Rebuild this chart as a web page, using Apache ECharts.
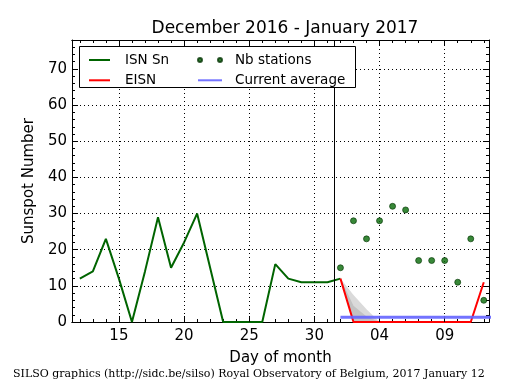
<!DOCTYPE html>
<html><head><meta charset="utf-8">
<script src="https://cdn.jsdelivr.net/npm/echarts@6/dist/echarts.min.js"></script>
<style>html,body{margin:0;padding:0;background:#fff}#c{width:515px;height:390px}</style>
</head><body><div id="c"></div>
<script>
// ---- data ----
const isnDays = [12,13,14,15,16,17,18,19,20,21,22,23,24,25,26,27,28,29,30,31,32];
const isnValues = [12,14,23,12,0,14,29,15,22,30,15,0,0,0,0,16,12,11,11,11,12];
const eisnDays = [32,33,34,35,36,37,38,39,40,41,42,43];
const eisnValues = [12,0,0,0,0,0,0,0,0,0,0,11];
const stationDays = [32,33,34,35,36,37,38,39,40,41,42,43];
const stationValues = [15,28,23,28,32,31,17,17,17,11,23,6];
const avgDays = [32,44];
const avgValues = [1.3,1.3];
const bandDays = [32,33,34,35];
const bandLow = [12,0,0,0];
const bandOuterHigh = [12,7.5,3.5,0];
const bandInnerHigh = [12,4.5,1.5,0];
const xTickValues = [15,20,25,30,35,40];
const xMinorValues = [12,13,14,15,16,17,18,19,20,21,22,23,24,25,26,27,28,29,30,31,32,33,34,35,36,37,38,39,40,41,42,43];
const xTickLabels = ['15','20','25','30','04','09'];
const monthBoundary = 31.5;

const X_MIN = 11.4, X_MAX = 43.4, Y_MIN = 0, Y_MAX = 78;
const pairs = (xs, ys) => xs.map((x, i) => [x, ys[i]]);
const FONT = 'DejaVu Sans';

function bandRenderer(highs, fill) {
  return function (params, api) {
    const pts = [];
    bandDays.forEach((d, i) => pts.push(api.coord([d, highs[i]])));
    for (let i = bandDays.length - 1; i >= 0; i--) pts.push(api.coord([bandDays[i], bandLow[i]]));
    return {type: 'polygon', shape: {points: pts}, style: {fill: fill}, silent: true};
  };
}

const chart = echarts.init(document.getElementById('c'), null, {renderer: 'canvas'});
const baseX = {
  type: 'value', min: X_MIN, max: X_MAX, gridIndex: 0,
  axisLine: {show: true, onZero: false, lineStyle: {color: '#000', width: 1}},
  splitLine: {show: false}
};
const baseY = {
  type: 'value', min: Y_MIN, max: Y_MAX, interval: 10,
  axisLine: {show: true, onZero: false, lineStyle: {color: '#000', width: 1}},
  axisTick: {show: true, inside: true, length: 6, lineStyle: {color: '#000'}},
  minorTick: {show: true, splitNumber: 5, length: 3, lineStyle: {color: '#000'}}
};
const hideSym = {opacity: 0};
const option = {
  animation: false,
  backgroundColor: '#fff',
  textStyle: {fontFamily: FONT},
  title: {
    text: 'December 2016 - January 2017', left: 280, top: 15, textAlign: 'center',
    textStyle: {fontFamily: FONT, fontSize: 17, fontWeight: 'normal', color: '#000'}
  },
  grid: {left: 72, right: 26, top: 40, bottom: 68, containLabel: false},
  xAxis: [
    Object.assign({}, baseX, {
      position: 'bottom',
      name: 'Day of month', nameLocation: 'middle', nameGap: 29,
      nameTextStyle: {fontFamily: FONT, fontSize: 15, color: '#000'},
      axisTick: {show: true, inside: true, length: 6, customValues: xTickValues, lineStyle: {color: '#000'}},
      axisLabel: {show: true, customValues: xTickValues, margin: 7, fontFamily: FONT, fontSize: 15, color: '#000',
        formatter: v => xTickLabels[xTickValues.indexOf(Math.round(v))] || ''}
    }),
    Object.assign({}, baseX, {
      position: 'bottom',
      axisTick: {show: true, inside: true, length: 3, customValues: xMinorValues, lineStyle: {color: '#000'}},
      axisLabel: {show: false, customValues: xMinorValues}
    }),
    Object.assign({}, baseX, {
      position: 'top',
      axisTick: {show: true, inside: true, length: 6, customValues: xTickValues, lineStyle: {color: '#000'}},
      axisLabel: {show: false, customValues: xTickValues}
    }),
    Object.assign({}, baseX, {
      position: 'top',
      axisTick: {show: true, inside: true, length: 3, customValues: xMinorValues, lineStyle: {color: '#000'}},
      axisLabel: {show: false, customValues: xMinorValues}
    })
  ],
  yAxis: [
    Object.assign({}, baseY, {
      position: 'left',
      name: 'Sunspot Number', nameLocation: 'middle', nameGap: 30, nameRotate: 90,
      nameTextStyle: {fontFamily: FONT, fontSize: 15, color: '#000'},
      axisLabel: {show: true, margin: 5, fontFamily: FONT, fontSize: 15, color: '#000', showMaxLabel: false},
      splitLine: {show: true, lineStyle: {color: '#000', width: 1, type: [1, 3]}}
    }),
    Object.assign({}, baseY, {
      position: 'right',
      axisLabel: {show: false},
      splitLine: {show: false}
    })
  ],
  legend: [
    {
      left: 88, top: 53, orient: 'vertical', padding: 0, z: 10,
      itemWidth: 21, itemHeight: 10, itemGap: 6.3,
      textStyle: {fontFamily: FONT, fontSize: 13.5, color: '#000', padding: [0, 0, 0, 10]},
      data: [{name: 'ISN Sn', itemStyle: hideSym}, {name: 'EISN', itemStyle: hideSym}]
    },
    {
      left: 197, top: 53, orient: 'vertical', padding: 0, z: 10,
      itemWidth: 24, itemHeight: 10, itemGap: 6.3,
      textStyle: {fontFamily: FONT, fontSize: 13.5, color: '#000', padding: [0, 0, 0, 8]},
      data: [
        {name: 'Nb stations', icon: 'path://M0,2a2,2 0 1,0 4,0a2,2 0 1,0 -4,0zM20,2a2,2 0 1,0 4,0a2,2 0 1,0 -4,0z'},
        {name: 'Current average', itemStyle: hideSym}
      ]
    }
  ],
  graphic: [
    {type: 'rect', z: 8, shape: {x: 79.5, y: 46.5, width: 276, height: 41}, style: {fill: '#fff', stroke: '#000', lineWidth: 1}},
    {type: 'text', left: 13, top: 369, z: 8,
      style: {text: 'SILSO graphics (http://sidc.be/silso) Royal Observatory of Belgium, 2017 January 12',
        font: '11px "DejaVu Serif"', fill: '#000'}}
  ],
  series: [
    {
      name: 'grid', type: 'line', data: [], xAxisIndex: 0, yAxisIndex: 0, silent: true,
      markLine: {
        silent: true, symbol: 'none', label: {show: false},
        lineStyle: {color: '#000', width: 1, type: [1, 3]},
        data: xTickValues.map(v => ({xAxis: v}))
      }
    },
    {
      name: 'bandOuter', type: 'custom', data: [[bandDays[0], bandLow[0]]], z: 1, silent: true,
      renderItem: bandRenderer(bandOuterHigh, '#dadada'), clip: true
    },
    {
      name: 'bandInner', type: 'custom', data: [[bandDays[0], bandLow[0]]], z: 1, silent: true,
      renderItem: bandRenderer(bandInnerHigh, '#c2c2c2'), clip: true
    },
    {
      name: 'ISN Sn', type: 'line', data: pairs(isnDays, isnValues), symbol: 'none',
      color: '#006400', lineStyle: {color: '#006400', width: 2}, z: 3,
      markLine: {
        silent: true, symbol: 'none', label: {show: false},
        lineStyle: {color: '#000', width: 1, type: 'solid'},
        data: [{xAxis: monthBoundary}]
      }
    },
    {
      name: 'EISN', type: 'line', data: pairs(eisnDays, eisnValues), symbol: 'none',
      color: '#ff0000', lineStyle: {color: '#ff0000', width: 2}, z: 4
    },
    {
      name: 'Current average', type: 'line', data: pairs(avgDays, avgValues), symbol: 'none',
      color: 'rgba(100,100,255,0.9)', lineStyle: {color: 'rgba(100,100,255,0.9)', width: 3}, z: 5
    },
    {
      name: 'Nb stations', type: 'scatter', data: pairs(stationDays, stationValues),
      symbol: 'circle', symbolSize: 6, z: 6,
      itemStyle: {color: '#066a06', borderColor: '#023302', borderWidth: 0.8}
    }
  ]
};
chart.setOption(option);
</script>
</body></html>
